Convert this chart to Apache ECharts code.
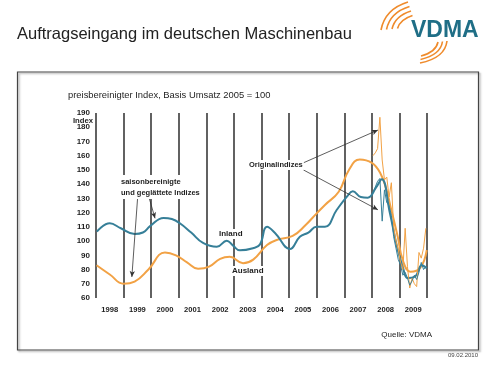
<!DOCTYPE html>
<html>
<head>
<meta charset="utf-8">
<script src="https://cdn.jsdelivr.net/npm/echarts@6/dist/echarts.min.js"></script>
<style>
html,body{margin:0;padding:0;background:#fff;}
#c{width:500px;height:370px;}
</style>
</head>
<body>
<div id="c"></div>
<script>
// ---- data ----
const years = ['1998','1999','2000','2001','2002','2003','2004','2005','2006','2007','2008','2009'];
const yTicks = [60,70,80,90,100,110,120,130,140,150,160,170,180,190];

// seasonally adjusted & smoothed indices: [decimal year, index]
const inlandSmooth = [
  [1998.03,106.6],[1998.5,112.5],[1998.9,109],[1999.4,105],[1999.7,106],[1999.96,110.5],
  [2000.45,116.3],[2000.75,115.5],[2001.04,112.5],[2001.45,106],[2001.88,98.7],[2002.38,96],
  [2002.74,100.3],[2002.96,97],[2003.22,93.5],[2003.69,95],[2003.94,97.5],[2004.2,110],
  [2004.49,105.7],[2005.03,94.4],[2005.39,103],[2005.7,106],[2006.0,110],[2006.3,110],
  [2006.73,122],[2007.09,131],[2007.31,135],[2007.6,131],[2007.85,130.5],[2008.15,137.5],
  [2008.36,143.5],[2008.65,120],[2008.94,93.7],[2009.12,82],[2009.3,74],[2009.56,75],
  [2009.81,83],[2009.99,81]
];
const auslandSmooth = [
  [1998.02,83],[1998.5,76.5],[1999.0,70],[1999.4,71.5],[1999.9,80],[2000.5,92],
  [2000.9,90],[2001.3,85],[2001.7,80.5],[2002.1,82],[2002.5,87.5],[2002.85,89],
  [2003.33,84.5],[2003.7,87],[2004.2,97.2],[2004.55,100.8],[2005.13,103.6],[2005.6,111.3],
  [2006.0,119.5],[2006.3,125.4],[2006.8,134.7],[2007.17,150],[2007.56,157.4],[2008.0,155],
  [2008.3,148],[2008.53,136],[2008.68,124],[2008.94,103],[2009.12,86.7],[2009.4,78.5],
  [2009.75,81],[2009.99,93.7]
];

// original monthly indices, Jan 2008 .. Dec 2009
const origMonths = ['2008-01','2008-02','2008-03','2008-04','2008-05','2008-06','2008-07','2008-08','2008-09','2008-10','2008-11','2008-12',
                    '2009-01','2009-02','2009-03','2009-04','2009-05','2009-06','2009-07','2009-08','2009-09','2009-10','2009-11','2009-12'];
const auslandOrig = [160,162,165,187,157,143,145,131,141,110,100,94,85,80,109,82,67,74,70,68,92,88,95,109];
const inlandOrig  = [134,138,142,144,114,136,127,125,118,103,95,87,83,76,78,74,69,72,76,73,78,85,80,82];

// ---- helpers ----
function monthToYear(s){const p=s.split('-');return +p[0]+(+p[1]-0.5)/12;}
const origT = origMonths.map(monthToYear);
const auslandOrigPts = origT.map((t,i)=>[t,auslandOrig[i]]);
const inlandOrigPts  = origT.map((t,i)=>[t,inlandOrig[i]]);

const TEAL='#367f98', ORANGE='#f2a245', INK='#1e1e1e';
const F='"Liberation Sans", Arial, sans-serif';

const chart = echarts.init(document.getElementById('c'), null, {renderer:'canvas'});

function arrowLine(a,b){return [{coord:a},{coord:b}];}

const option = {
  animation:false,
  backgroundColor:'#fff',
  grid:{left:96, top:113, width:331, height:185, containLabel:false},
  xAxis:[
    {type:'value', min:1998, max:2010, interval:1,
     axisLine:{show:false}, axisTick:{show:false}, axisLabel:{show:false},
     splitLine:{show:true, lineStyle:{color:'#3a3a3a', width:1.6}}},
    {type:'category', data:years, position:'bottom', boundaryGap:true,
     axisLine:{show:false}, axisTick:{show:false}, splitLine:{show:false},
     axisLabel:{margin:8, fontFamily:F, fontSize:7.6, fontWeight:'bold', color:INK}}
  ],
  yAxis:{type:'value', min:yTicks[0], max:yTicks[yTicks.length-1], interval:10,
    axisLine:{show:false}, axisTick:{show:false}, splitLine:{show:false},
    axisLabel:{margin:6, fontFamily:F, fontSize:8, fontWeight:'bold', color:INK}},
  series:[
    {name:'Ausland', type:'line', data:auslandSmooth, smooth:0.45, showSymbol:false,
     lineStyle:{color:ORANGE, width:2}, itemStyle:{color:ORANGE}, z:3},
    {name:'Inland', type:'line', data:inlandSmooth, smooth:0.45, showSymbol:false,
     lineStyle:{color:TEAL, width:2}, itemStyle:{color:TEAL}, z:3},
    {name:'Ausland original', type:'line', data:auslandOrigPts, showSymbol:false,
     lineStyle:{color:ORANGE, width:1}, z:4},
    {name:'Inland original', type:'line', data:inlandOrigPts, showSymbol:false,
     lineStyle:{color:TEAL, width:1}, z:4,
     markLine:{silent:true, symbol:['none','arrow'], symbolSize:[4,6], label:{show:false},
       lineStyle:{color:'#333', width:0.8, type:'solid'},
       data:[
         arrowLine([1999.52,133.5],[1999.3,74.8]),
         arrowLine([1999.88,133.5],[2000.14,116]),
         arrowLine([2005.52,155],[2008.22,178]),
         arrowLine([2005.52,150],[2008.22,122])
       ]}}
  ],
  graphic:[
    {type:'text', left:17, top:26, style:{text:'Auftragseingang im deutschen Maschinenbau', font:'16.5px '+F, fill:'#222'}},
    {type:'rect', shape:{x:17.5, y:72, width:461, height:278}, style:{fill:'none', stroke:'#444', lineWidth:1.2, shadowColor:'rgba(0,0,0,0.35)', shadowBlur:2, shadowOffsetX:1.5, shadowOffsetY:1.5}},
    {type:'text', x:68, y:91, style:{text:'preisbereinigter Index, Basis Umsatz 2005 = 100', font:'9.4px '+F, fill:INK}},
    {type:'text', x:83, y:121, style:{text:'Index', font:'bold 7.7px '+F, fill:INK, align:'center', verticalAlign:'middle'}, z:20},
    {type:'text', x:121, y:175, z:20, style:{text:'saisonbereinigte\nund geglättete Indizes', font:'bold 7.5px '+F, lineHeight:11, fill:INK, backgroundColor:'#fff', padding:[1,1,1,0]}},
    {type:'text', x:218, y:229, z:20, style:{text:'Inland', font:'bold 8px '+F, fill:INK, backgroundColor:'#fff', padding:[1,1]}},
    {type:'text', x:231, y:266, z:20, style:{text:'Ausland', font:'bold 8px '+F, fill:INK, backgroundColor:'#fff', padding:[1,1]}},
    {type:'text', x:248, y:160, z:20, style:{text:'Originalindizes', font:'bold 7.5px '+F, fill:INK, backgroundColor:'#fff', padding:[1,1]}},
    {type:'text', x:432, y:335, style:{text:'Quelle: VDMA', font:'8px '+F, fill:INK, align:'right', verticalAlign:'middle'}},
    {type:'text', x:478, y:355, style:{text:'09.02.2010', font:'6px '+F, fill:'#444', align:'right', verticalAlign:'middle'}},
    // VDMA logo
    {type:'text', x:411, y:31, style:{text:'VDMA', font:'bold 23px '+F, fill:'#1f6e86', verticalAlign:'middle'}},
    {type:'group', children:[0,1,2,3].map(i=>({type:'bezierCurve',
       shape:{x1:381+i*5.5, y1:30-i*0.5, x2:408+i*1.5, y2:2+i*4.5, cpx1:385+i*5, cpy1:9+i*3.5},
       style:{stroke:'#ef8b2c', lineWidth:1.6, fill:'none'}}))},
    {type:'group', children:[0,1,2].map(i=>({type:'bezierCurve',
       shape:{x1:447-i*4.5, y1:41+i*0.5, x2:420+i*0.5, y2:63-i*3.5, cpx1:445-i*4.5, cpy1:58-i*3},
       style:{stroke:'#ef8b2c', lineWidth:1.6, fill:'none'}}))}
  ]
};
chart.setOption(option);
</script>
</body>
</html>
